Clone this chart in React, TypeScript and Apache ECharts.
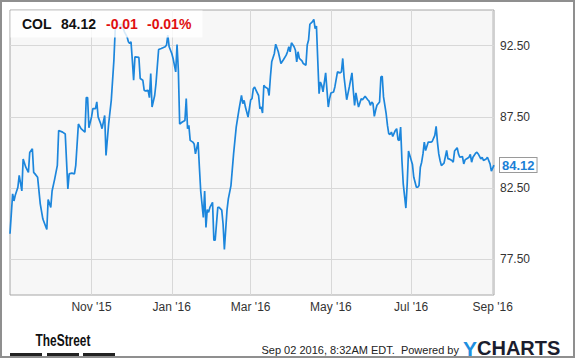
import React, { useEffect, useRef } from "react";
import * as echarts from "echarts";

const priceDates: string[] = [
  "2015-08-31","2015-09-02","2015-09-03","2015-09-04","2015-09-06","2015-09-07","2015-09-09","2015-09-10","2015-09-12","2015-09-14",
  "2015-09-15","2015-09-17","2015-09-18","2015-09-19","2015-09-21","2015-09-23","2015-09-25","2015-09-28","2015-09-29","2015-10-01",
  "2015-10-02","2015-10-04","2015-10-06","2015-10-07","2015-10-10","2015-10-12","2015-10-14","2015-10-15","2015-10-17","2015-10-19",
  "2015-10-20","2015-10-22","2015-10-24","2015-10-27","2015-10-28","2015-10-29","2015-10-30","2015-11-01",
  "2015-11-02","2015-11-04","2015-11-05","2015-11-06","2015-11-08","2015-11-09","2015-11-11","2015-11-12","2015-11-14","2015-11-16",
  "2015-11-18","2015-11-19","2015-11-21","2015-11-24","2015-11-26","2015-11-28","2015-11-29","2015-11-30","2015-12-01","2015-12-02",
  "2015-12-03","2015-12-04","2015-12-07","2015-12-08","2015-12-10","2015-12-11","2015-12-12","2015-12-14","2015-12-15","2015-12-16",
  "2015-12-17","2015-12-19","2015-12-20","2015-12-22","2015-12-24","2015-12-27","2015-12-28","2015-12-29","2015-12-30","2016-01-01",
  "2016-01-02",
  "2016-01-04","2016-01-05","2016-01-06","2016-01-07","2016-01-09","2016-01-11","2016-01-12","2016-01-13","2016-01-14","2016-01-15",
  "2016-01-17","2016-01-18","2016-01-19","2016-01-21","2016-01-22","2016-01-23","2016-01-25","2016-01-26","2016-01-27","2016-01-28",
  "2016-01-29","2016-01-30","2016-02-01","2016-02-02","2016-02-03","2016-02-05","2016-02-06","2016-02-08","2016-02-09","2016-02-10",
  "2016-02-12","2016-02-13","2016-02-15","2016-02-17","2016-02-19","2016-02-21","2016-02-23","2016-02-24","2016-02-25","2016-02-26",
  "2016-02-28","2016-03-01","2016-03-02","2016-03-03","2016-03-04",
  "2016-03-05","2016-03-07","2016-03-08","2016-03-09","2016-03-10","2016-03-11","2016-03-12","2016-03-14","2016-03-15","2016-03-16",
  "2016-03-17","2016-03-19","2016-03-20","2016-03-22","2016-03-24","2016-03-26","2016-03-28","2016-03-29","2016-03-30","2016-03-31",
  "2016-04-01","2016-04-03","2016-04-04","2016-04-05","2016-04-06","2016-04-07","2016-04-09","2016-04-10","2016-04-12","2016-04-13",
  "2016-04-14","2016-04-15","2016-04-17","2016-04-18","2016-04-19","2016-04-20","2016-04-21","2016-04-22","2016-04-23","2016-04-24",
  "2016-04-25","2016-04-27","2016-04-29","2016-04-30","2016-05-01","2016-05-03","2016-05-04","2016-05-06",
  "2016-05-08","2016-05-09","2016-05-10","2016-05-11","2016-05-13","2016-05-15","2016-05-17","2016-05-18","2016-05-19","2016-05-20",
  "2016-05-21","2016-05-22","2016-05-24","2016-05-25","2016-05-27","2016-05-29","2016-05-30","2016-05-31","2016-06-01","2016-06-02",
  "2016-06-03","2016-06-04","2016-06-05","2016-06-07","2016-06-08","2016-06-09","2016-06-10","2016-06-12","2016-06-13","2016-06-14",
  "2016-06-15","2016-06-16","2016-06-17","2016-06-19","2016-06-20","2016-06-21","2016-06-22","2016-06-23","2016-06-24","2016-06-25",
  "2016-06-27","2016-06-28","2016-06-29","2016-07-02","2016-07-03","2016-07-05","2016-07-06","2016-07-07",
  "2016-07-08","2016-07-09","2016-07-10","2016-07-11","2016-07-12","2016-07-14","2016-07-16","2016-07-17","2016-07-19","2016-07-20",
  "2016-07-21","2016-07-22","2016-07-23","2016-07-24","2016-07-26","2016-07-28","2016-07-29","2016-07-30","2016-08-01","2016-08-02",
  "2016-08-03","2016-08-05","2016-08-06","2016-08-07","2016-08-09","2016-08-10","2016-08-11","2016-08-12","2016-08-14","2016-08-15",
  "2016-08-16","2016-08-17","2016-08-19","2016-08-20","2016-08-21","2016-08-23","2016-08-24","2016-08-25","2016-08-27","2016-08-28",
  "2016-08-30","2016-08-31","2016-09-02",
];

const prices: number[] = [
  79.3, 82.1, 81.6, 82.0, 82.56, 83.4, 82.3, 84.55, 83.97, 83.6,
  85.0, 85.26, 83.6, 83.5, 83.26, 81.4, 80.33, 79.6, 81.7, 81.15,
  82.3, 83.15, 84.1, 86.55, 86.43, 86.3, 82.44, 83.5, 83.55, 83.5,
  84.1, 87.0, 86.67, 86.43, 88.85, 88.85, 86.74, 87.5,
  88.08, 88.08, 88.55, 87.5, 87.0, 86.67, 87.6, 84.8, 87.0, 88.66,
  91.48, 93.64, 93.94, 94.0, 93.47, 93.12, 92.77, 92.65, 92.77, 91.48,
  90.07, 91.71, 91.67, 90.19, 90.07, 89.37, 89.32, 89.37, 88.85, 90.54,
  88.19, 89.0, 89.84, 92.23, 92.3, 92.42, 92.54, 93.24, 92.42, 91.95,
  91.6,
  90.66, 92.58, 90.77, 87.0, 87.14, 87.25, 88.78, 86.67, 86.9, 85.85,
  85.73, 85.6, 84.9, 85.73, 83.97, 82.3, 80.45, 82.3, 79.74, 81.0,
  80.8, 81.15, 81.5, 78.85, 78.85, 81.15, 81.15, 80.96, 79.98, 78.2,
  80.96, 81.74, 82.68, 84.9, 86.78, 87.96, 89.0, 88.43, 88.66, 88.19,
  87.49, 88.7, 88.78, 89.48, 89.6,
  89.37, 89.0, 88.08, 88.19, 87.77, 89.72, 89.6, 89.48, 89.0, 90.3,
  91.36, 91.95, 92.6, 92.07, 91.24, 91.53, 91.83, 92.07, 92.42, 92.07,
  92.7, 92.42, 92.18, 91.36, 92.07, 91.6, 91.43, 91.24, 91.13, 92.54,
  92.89, 94.0, 94.18, 94.34, 93.7, 93.87, 91.48, 89.13, 89.95, 89.72,
  89.25, 90.59, 88.19, 88.78, 89.18, 89.25, 89.6, 90.66,
  90.59, 90.66, 91.6, 90.3, 88.7, 89.6, 90.59, 89.37, 88.31, 89.18,
  88.66, 88.19, 88.78, 88.7, 88.94, 88.7, 88.6, 88.31, 88.54, 88.43,
  87.54, 87.96, 88.31, 88.54, 90.3, 90.35, 88.9, 87.72, 86.9, 86.31,
  86.27, 86.43, 86.13, 86.55, 86.67, 85.9, 85.85, 86.78, 84.44, 82.8,
  81.1, 82.8, 85.1, 84.15, 83.26, 82.56, 82.56, 82.68,
  83.97, 84.32, 84.9, 85.73, 85.14, 85.73, 85.73, 85.77, 86.2, 86.83,
  85.73, 84.9, 84.44, 84.08, 84.25, 85.14, 84.55, 84.55, 84.44, 84.32,
  85.1, 85.33, 84.9, 84.67, 84.72, 84.2, 84.48, 84.55, 84.67, 84.86,
  84.32, 84.67, 84.95, 85.02, 84.9, 84.55, 84.67, 84.44, 84.55, 84.67,
  84.2, 83.69, 84.12,
];

const xTickDates: string[] = ["2015-11-01", "2016-01-01", "2016-03-01", "2016-05-01", "2016-07-01", "2016-09-01"];
const xTickLabels: string[] = ["Nov '15", "Jan '16", "Mar '16", "May '16", "Jul '16", "Sep '16"];
const yTickValues: number[] = [77.5, 82.5, 87.5, 92.5];
const xRange: string[] = ["2015-08-31", "2016-09-02"];
const yRange: number[] = [75, 95];

const ticker = "COL";
const lastPrice = "84.12";
const change = "-0.01";
const changePct = "-0.01%";
const stampText = "Sep 02 2016, 8:32AM EDT.  Powered by";

const toTs = (s: string) => {
  const [y, m, d] = s.split("-").map(Number);
  return Date.UTC(y, m - 1, d);
};

const FONT = "'Liberation Sans', Arial, Helvetica, sans-serif";

export default function App() {
  const ref = useRef<HTMLDivElement>(null);
  useEffect(() => {
    if (!ref.current) return;
    const chart = echarts.init(ref.current, undefined, { renderer: "svg" });
    const tickTs = xTickDates.map(toTs);
    const data = priceDates.map((d, i) => [toTs(d), prices[i]]);
    chart.setOption({
      animation: false,
      backgroundColor: "#ffffff",
      textStyle: { fontFamily: FONT },
      grid: {
        left: 10,
        top: 10,
        width: 484,
        height: 285,
        show: true,
        backgroundColor: "#f7f7f7",
        borderColor: "#a6a6a6",
        borderWidth: 1,
      },
      xAxis: {
        type: "value",
        min: toTs(xRange[0]),
        max: toTs(xRange[1]),
        axisLine: { show: false },
        axisTick: { show: false, customValues: tickTs },
        axisLabel: {
          customValues: tickTs,
          color: "#333",
          fontSize: 12,
          fontFamily: FONT,
          margin: 6,
          formatter: (v: number) => {
            const i = tickTs.indexOf(v);
            return i >= 0 ? xTickLabels[i] : "";
          },
        },
        splitLine: { show: true, lineStyle: { color: "#d8d8d8", width: 1 } },
      },
      yAxis: {
        type: "value",
        position: "right",
        min: yRange[0],
        max: yRange[1],
        axisLine: { show: false },
        axisTick: { show: false, customValues: yTickValues },
        axisLabel: {
          customValues: yTickValues,
          color: "#333",
          fontSize: 12,
          fontFamily: FONT,
          margin: 6,
          formatter: (v: number) => v.toFixed(2),
        },
        splitLine: { show: true, lineStyle: { color: "#d8d8d8", width: 1 } },
      },
      series: [
        {
          type: "line",
          data,
          showSymbol: false,
          symbol: "none",
          lineStyle: { color: "#1c86dc", width: 1.7 },
          z: 3,
          endLabel: {
            show: true,
            formatter: lastPrice,
            color: "#1c7fd6",
            fontWeight: "bold",
            fontSize: 13,
            fontFamily: FONT,
            backgroundColor: "#ffffff",
            borderColor: "#9a9a9a",
            borderWidth: 1,
            padding: [1, 2, 0, 2],
            distance: 6,
          },
        },
      ],
      graphic: [
        {
          type: "rect",
          z: 100,
          shape: { x: 1, y: 1, width: 573, height: 356 },
          style: { fill: "none", stroke: "#8f8f8f", lineWidth: 2 },
          silent: true,
        },
        {
          type: "rect",
          z: 100,
          shape: { x: 10.5, y: 10.5, width: 192, height: 27 },
          style: { fill: "rgba(255,255,255,0.82)" },
          silent: true,
        },
        {
          type: "text",
          z: 101,
          style: { text: ticker, x: 22, y: 24, fill: "#111", font: `bold 14px ${FONT}`, textVerticalAlign: "middle" },
        },
        {
          type: "text",
          z: 101,
          style: { text: lastPrice, x: 61, y: 24, fill: "#111", font: `bold 14px ${FONT}`, textVerticalAlign: "middle" },
        },
        {
          type: "text",
          z: 101,
          style: { text: change, x: 106, y: 24, fill: "#e01010", font: `bold 14px ${FONT}`, textVerticalAlign: "middle" },
        },
        {
          type: "text",
          z: 101,
          style: { text: changePct, x: 147, y: 24, fill: "#e01010", font: `bold 14px ${FONT}`, textVerticalAlign: "middle" },
        },
        {
          type: "text",
          z: 101,
          x: 63,
          y: 340,
          scaleX: 0.7,
          style: {
            text: "TheStreet",
            x: 0,
            y: 0,
            fill: "#111",
            font: `bold 17px ${FONT}`,
            textAlign: "center",
            textVerticalAlign: "middle",
          },
        },
        { type: "rect", z: 101, shape: { x: 10, y: 353, width: 32, height: 3 }, style: { fill: "#222" } },
        { type: "rect", z: 101, shape: { x: 47, y: 353, width: 32, height: 3 }, style: { fill: "#222" } },
        { type: "rect", z: 101, shape: { x: 83, y: 353, width: 32, height: 3 }, style: { fill: "#222" } },
        {
          type: "text",
          z: 101,
          style: {
            text: stampText,
            x: 459,
            y: 350,
            fill: "#222",
            font: `11px ${FONT}`,
            textAlign: "right",
            textVerticalAlign: "middle",
          },
        },
        {
          type: "text",
          z: 101,
          style: {
            text: "{a|Y}{b|CHARTS}",
            x: 463,
            y: 348,
            textVerticalAlign: "middle",
            rich: {
              a: { fill: "#1e8fe0", font: `bold 21px ${FONT}` },
              b: { fill: "#1b1d2e", font: `bold 20px ${FONT}` },
            },
          },
        },
      ],
    });
    return () => chart.dispose();
  }, []);
  return (
    <div
      ref={ref}
      style={{ position: "fixed", left: 0, top: 0, width: 575, height: 358, background: "#fff" }}
    />
  );
}
